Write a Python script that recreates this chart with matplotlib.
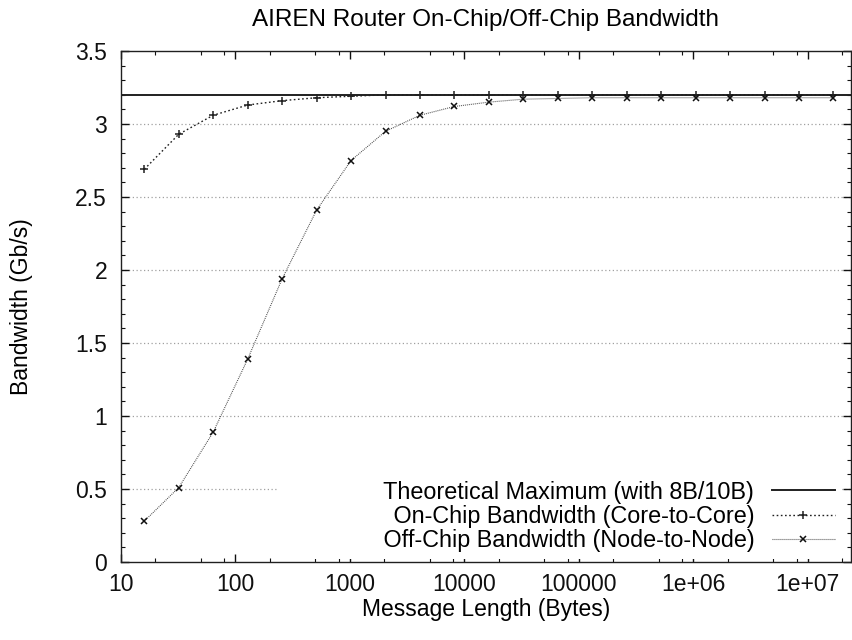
import matplotlib
matplotlib.use('Agg')
import matplotlib.pyplot as plt
from matplotlib.ticker import FixedLocator, FixedFormatter, MultipleLocator

plt.rcParams['font.family'] = ['Liberation Sans', 'DejaVu Sans']
plt.rcParams['font.size'] = 16.5

# message lengths: powers of two from 16 B to 16 MB
msg_len = [16, 32, 64, 128, 256, 512, 1024, 2048, 4096, 8192, 16384, 32768,
           65536, 131072, 262144, 524288, 1048576, 2097152, 4194304,
           8388608, 16777216]
on_chip = [2.69, 2.93, 3.06, 3.13, 3.16, 3.18, 3.19, 3.20, 3.20, 3.20, 3.20,
           3.20, 3.20, 3.20, 3.20, 3.20, 3.20, 3.20, 3.20, 3.20, 3.20]
off_chip = [0.28, 0.51, 0.89, 1.39, 1.94, 2.41, 2.75, 2.95, 3.06, 3.12, 3.15,
            3.17, 3.175, 3.18, 3.18, 3.18, 3.18, 3.18, 3.18, 3.18, 3.18]
theoretical_max = 3.2

x_major = [10, 100, 1000, 10000, 100000, 1e6, 1e7]
x_major_labels = ['10', '100', '1000', '10000', '100000', '1e+06', '1e+07']
y_major = [0, 0.5, 1, 1.5, 2, 2.5, 3, 3.5]
y_major_labels = ['0', '0.5', '1', '1.5', '2', '2.5', '3', '3.5']

fig = plt.figure(figsize=(8.53, 6.4), dpi=100)
ax = fig.add_axes([0.1418, 0.1219, 0.8559, 0.7984])

ax.set_xscale('log')
ax.set_xlim(10, 2.39e7)
ax.set_ylim(0, 3.5)

# grid lines at the inner major y ticks
for g in y_major[1:-1]:
    ax.axhline(g, color='#a0a0a0', lw=0.9, ls=(0, (1, 2)), zorder=1)

ax.axhline(theoretical_max, color='#202020', lw=1.4,
           label='Theoretical Maximum (with 8B/10B)', zorder=3)
ax.plot(msg_len, on_chip, color='#202020', lw=1.0, ls=(0, (1.2, 1.8)),
        marker='+', ms=6, mew=1.1, label='On-Chip Bandwidth (Core-to-Core)', zorder=4)
ax.plot(msg_len, off_chip, color='#404040', lw=0.8, ls=(0, (0.8, 1.0)),
        marker='x', ms=4.5, mew=1.1, mec='#101010',
        label='Off-Chip Bandwidth (Node-to-Node)', zorder=4)

ax.xaxis.set_major_locator(FixedLocator(x_major))
ax.xaxis.set_major_formatter(FixedFormatter(x_major_labels))
minor = []
for d in x_major:
    for m in [2, 5, 8]:
        if d * m < 2.39e7:
            minor.append(d * m)
ax.xaxis.set_minor_locator(FixedLocator(minor))
ax.xaxis.set_minor_formatter(FixedFormatter([]))

ax.set_yticks(y_major)
ax.set_yticklabels(y_major_labels)
ax.yaxis.set_minor_locator(MultipleLocator(0.1))

ax.tick_params(which='both', direction='in', top=True, right=True, colors='#101010')
ax.tick_params(which='major', length=6, width=1.0)
ax.tick_params(which='minor', length=3, width=0.8)
ax.tick_params(axis='x', which='major', pad=8, labelsize=16.5)
ax.tick_params(axis='y', which='major', pad=10, labelsize=16.5)

for s in ax.spines.values():
    s.set_linewidth(1.0)
    s.set_color('#202020')

ax.set_xlabel('Message Length (Bytes)', fontsize=16.5)
ax.xaxis.set_label_coords(0.5, -0.07)
ax.set_ylabel('Bandwidth (Gb/s)', fontsize=16.5)
ax.yaxis.set_label_coords(-0.12, 0.5)
ax.set_title('AIREN Router On-Chip/Off-Chip Bandwidth', fontsize=17.5, pad=18)

# gnuplot-style key: text right-aligned, sample on the right, opaque box
pad_sp = ' ' * 15
handles, labels = ax.get_legend_handles_labels()
labels = [pad_sp + lab for lab in labels]
leg = ax.legend(handles, labels, loc='lower right', bbox_to_anchor=(0.987, 0.006),
                markerfirst=False, frameon=True, fancybox=False,
                edgecolor='none', facecolor='white', framealpha=1,
                handlelength=2.7, handletextpad=0.74, labelspacing=0.05,
                borderaxespad=0, borderpad=0.3, fontsize=16.8)
leg.set_zorder(5)

fig.savefig('out.png', dpi=100)
